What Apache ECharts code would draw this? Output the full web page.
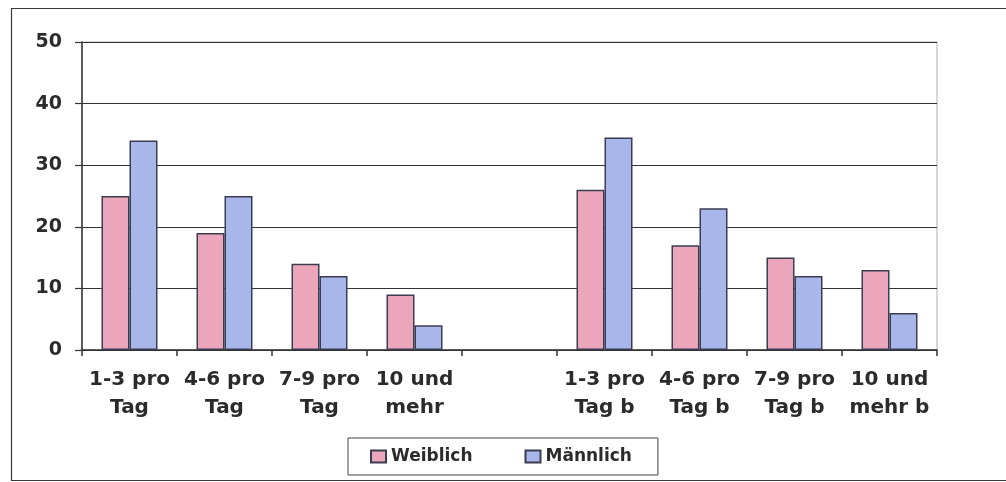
<!DOCTYPE html>
<html>
<head>
<meta charset="utf-8">
<title>Weiblich / Männlich</title>
<script src="https://cdn.jsdelivr.net/npm/echarts@6/dist/echarts.min.js"></script>
<style>
  html, body { margin: 0; padding: 0; background: #fff; }
  #chart { width: 1006px; height: 482px; }
</style>
</head>
<body>
<div id="chart"></div>
<script>
// Category labels (the fifth slot is an intentional empty spacer)
const categories = [
  '1-3 pro\nTag', '4-6 pro\nTag', '7-9 pro\nTag', '10 und\nmehr',
  '',
  '1-3 pro\nTag b', '4-6 pro\nTag b', '7-9 pro\nTag b', '10 und\nmehr b'
];
const seriesNames = ['Weiblich', 'Männlich'];
const weiblich  = [25, 19, 14, 9, null, 26, 17, 15, 13];
const maennlich = [34, 25, 12, 4, null, 34.5, 23, 12, 6];
const yTicks = { min: 0, max: 50, interval: 10 };

const FONT = 'DejaVu Sans';
const TEXT = '#2b2b2b';
const LINE = '#333';

const chart = echarts.init(document.getElementById('chart'), null, { renderer: 'canvas' });

chart.setOption({
  animation: false,
  backgroundColor: '#fff',
  textStyle: { fontFamily: FONT },
  graphic: [{
    type: 'rect',
    left: 9, top: 6,
    shape: { width: 1010, height: 472 },
    style: { fill: 'none', stroke: '#3a3a3a', lineWidth: 1.2 },
    silent: true
  }],
  grid: {
    left: 82, right: 69, top: 42, bottom: 132,
    show: true, borderColor: '#aaa', borderWidth: 1, backgroundColor: 'transparent'
  },
  legend: {
    data: seriesNames,
    left: 348, top: 438,
    padding: [10, 26, 10, 22],
    itemGap: 52,
    itemWidth: 15, itemHeight: 12,
    borderColor: '#444', borderWidth: 1,
    textStyle: { fontFamily: FONT, fontWeight: 'bold', fontSize: 17, color: TEXT },
    icon: 'rect'
  },
  xAxis: {
    type: 'category',
    data: categories,
    axisLine: { lineStyle: { color: LINE, width: 1.5 } },
    axisTick: { show: true, length: 6, alignWithLabel: false, lineStyle: { color: LINE, width: 1.5 } },
    axisLabel: {
      interval: 0, margin: 16,
      fontFamily: FONT, fontWeight: 'bold', fontSize: 20, lineHeight: 28, color: TEXT
    }
  },
  yAxis: {
    type: 'value',
    min: yTicks.min, max: yTicks.max, interval: yTicks.interval,
    axisLine: { show: true, lineStyle: { color: LINE, width: 1.5 } },
    axisTick: { show: true, length: 7, lineStyle: { color: LINE, width: 1.2 } },
    splitLine: { show: true, lineStyle: { color: LINE, width: 1.2 } },
    axisLabel: { margin: 20, fontFamily: FONT, fontWeight: 'bold', fontSize: 19, color: TEXT }
  },
  series: [
    {
      name: seriesNames[0], type: 'bar', data: weiblich,
      barWidth: 28, barGap: '0%',
      itemStyle: { color: '#eba6bc', borderColor: '#3a3d52', borderWidth: 1.5 }
    },
    {
      name: seriesNames[1], type: 'bar', data: maennlich,
      barWidth: 28, barGap: '0%',
      itemStyle: { color: '#a8b6ea', borderColor: '#3a3d52', borderWidth: 1.5 }
    }
  ]
});
</script>
</body>
</html>
